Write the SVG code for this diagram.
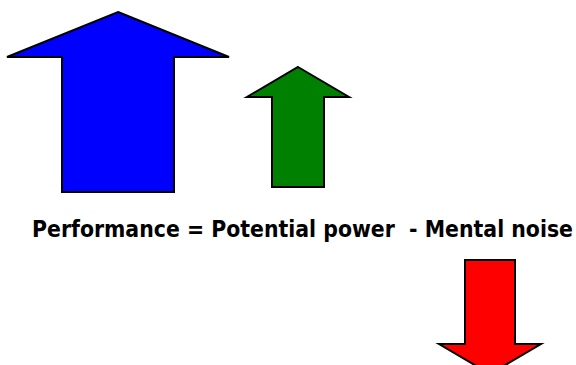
<svg xmlns="http://www.w3.org/2000/svg" width="576" height="365" viewBox="0 0 576 365">
<style>
.arrow{stroke:#000;stroke-width:2;stroke-linejoin:miter}
.label{font-family:"DejaVu Sans","Liberation Sans",sans-serif;font-weight:bold;font-size:23px;fill:#000;white-space:pre}
</style>
<rect width="576" height="365" fill="#fff"/>
<g id="potential-arrow">
<polygon class="arrow" fill="#0000ff" points="118,12 229,57 174,57 174,192 62,192 62,57 7,57"/>
</g>
<g id="performance-arrow">
<polygon class="arrow" fill="#008000" points="298,67 349,97 324,97 324,187 272,187 272,97 247,97"/>
</g>
<g id="noise-arrow">
<polygon class="arrow" fill="#ff0000" points="465,260 515,260 515,344 541,344 490,374 439,344 465,344"/>
</g>
<g id="equation">
<text class="label" x="32" y="237" textLength="541" lengthAdjust="spacingAndGlyphs" xml:space="preserve">Performance = Potential power  - Mental noise</text>
</g>
</svg>
